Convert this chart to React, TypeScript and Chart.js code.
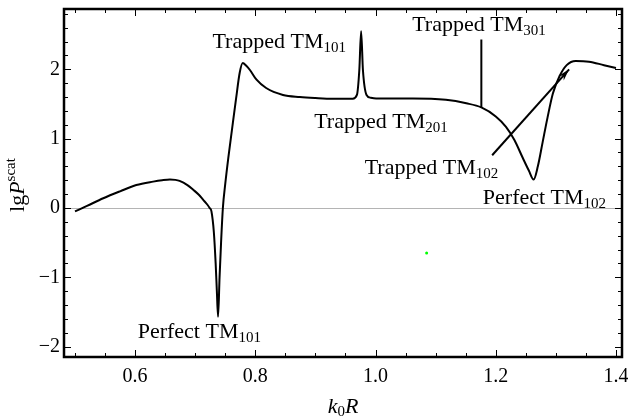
import React, { useEffect, useRef } from "react";
import { Chart, registerables } from "chart.js";

Chart.register(...registerables);

// ---- data ----
const curveX = [
  0.5, 0.52, 0.547, 0.575, 0.602, 0.63, 0.645, 0.658, 0.667, 0.674, 0.687, 0.697, 0.706,
  0.713, 0.72, 0.724, 0.727, 0.731, 0.734, 0.736, 0.738, 0.7405, 0.743, 0.746, 0.75,
  0.755, 0.761, 0.768, 0.774, 0.779, 0.785, 0.791, 0.802, 0.818, 0.846, 0.874, 0.9,
  0.929, 0.962, 0.969, 0.973, 0.976, 0.979, 0.985, 0.992, 1.001, 1.062, 1.117, 1.151,
  1.176, 1.2, 1.217, 1.231, 1.245, 1.255, 1.263, 1.27, 1.278, 1.286,
  1.295, 1.306, 1.318, 1.333, 1.355, 1.38, 1.4,
];
const curveY = [
  -0.05, 0.03, 0.14, 0.24, 0.33, 0.38, 0.4, 0.41, 0.405, 0.39, 0.33, 0.26, 0.19,
  0.12, 0.05, 0.0, -0.05, -0.35, -0.8, -1.2, -1.57, -1.0, -0.5, 0.0, 0.35,
  0.72, 1.12, 1.58, 1.95, 2.09, 2.05, 1.99, 1.85, 1.73, 1.63, 1.6, 1.585,
  1.575, 1.575, 1.63, 1.99, 2.55, 1.99, 1.63, 1.59, 1.58, 1.58, 1.56, 1.51,
  1.45, 1.32, 1.17, 0.98, 0.72, 0.54, 0.41, 0.6, 0.95, 1.3,
  1.65, 1.9, 2.06, 2.12, 2.11, 2.06, 2.02,
];

// narrow Trapped TM301 resonance (drawn as a needle)
const spikeX = [1.176, 1.176];
const spikeY = [1.45, 2.43];

const arrowX = [1.194, 1.322];
const arrowY = [0.76, 2.0];

const dotX = [1.085];
const dotY = [-0.65];

const xTicks = [0.6, 0.8, 1.0, 1.2, 1.4];
const yTicks = [-2, -1, 0, 1, 2];

const labelMain = ["Trapped TM", "Trapped TM", "Trapped TM", "Trapped TM", "Perfect TM", "Perfect TM"];
const labelSub = ["101", "201", "301", "102", "102", "101"];
const labelX = [0.8397, 1.009, 1.172, 1.093, 1.281, 0.7068];
const labelY = [2.397, 1.242, 2.643, 0.578, 0.144, -1.79];

const FONT = "'Liberation Serif', 'Times New Roman', serif";

const decorPlugin = {
  id: "decor",
  beforeDatasetsDraw(chart: any) {
    const { ctx, chartArea: a, scales } = chart;
    const y0 = scales.y.getPixelForValue(0);
    ctx.save();
    ctx.strokeStyle = "#b4b4b4";
    ctx.lineWidth = 1;
    ctx.beginPath();
    ctx.moveTo(a.left, Math.round(y0) + 0.5);
    ctx.lineTo(a.right, Math.round(y0) + 0.5);
    ctx.stroke();
    ctx.restore();
  },
  afterDatasetsDraw(chart: any) {
    const { ctx, chartArea: a, scales } = chart;
    const xs = scales.x;
    const ys = scales.y;
    ctx.save();
    // ticks (inward, all sides)
    ctx.strokeStyle = "#000";
    ctx.lineWidth = 1;
    ctx.beginPath();
    for (let i = 0; i <= 18; i++) {
      const v = 0.5 + i * 0.05;
      const major = xTicks.some((t) => Math.abs(t - v) < 1e-6);
      const len = major ? 7 : 4;
      const px = Math.round(xs.getPixelForValue(v)) + 0.5;
      ctx.moveTo(px, a.bottom);
      ctx.lineTo(px, a.bottom - len);
      ctx.moveTo(px, a.top);
      ctx.lineTo(px, a.top + len);
    }
    for (let i = 0; i <= 24; i++) {
      const v = -2.0 + i * 0.2;
      if (v > ys.max) break;
      const major = yTicks.some((t) => Math.abs(t - v) < 1e-6);
      const len = major ? 7 : 4;
      const py = Math.round(ys.getPixelForValue(v)) + 0.5;
      ctx.moveTo(a.left, py);
      ctx.lineTo(a.left + len, py);
      ctx.moveTo(a.right, py);
      ctx.lineTo(a.right - len, py);
    }
    ctx.stroke();

    // frame
    ctx.lineWidth = 2.5;
    ctx.strokeRect(a.left, a.top, a.right - a.left, a.bottom - a.top);

    // arrowhead
    const tx = xs.getPixelForValue(arrowX[1]);
    const ty = ys.getPixelForValue(arrowY[1]);
    const fx = xs.getPixelForValue(arrowX[0]);
    const fy = ys.getPixelForValue(arrowY[0]);
    const ang = Math.atan2(ty - fy, tx - fx);
    const L = 12;
    const W = 3.5;
    ctx.fillStyle = "#000";
    ctx.beginPath();
    ctx.moveTo(tx, ty);
    ctx.lineTo(tx - L * Math.cos(ang) + W * Math.sin(ang), ty - L * Math.sin(ang) - W * Math.cos(ang));
    ctx.lineTo(tx - 0.7 * L * Math.cos(ang), ty - 0.7 * L * Math.sin(ang));
    ctx.lineTo(tx - L * Math.cos(ang) - W * Math.sin(ang), ty - L * Math.sin(ang) + W * Math.cos(ang));
    ctx.closePath();
    ctx.fill();

    // annotations
    ctx.textBaseline = "middle";
    ctx.textAlign = "left";
    for (let i = 0; i < labelMain.length; i++) {
      const cx = xs.getPixelForValue(labelX[i]);
      const cy = ys.getPixelForValue(labelY[i]);
      ctx.font = `22px ${FONT}`;
      const w1 = ctx.measureText(labelMain[i]).width;
      ctx.font = `15px ${FONT}`;
      const w2 = ctx.measureText(labelSub[i]).width;
      const x0 = cx - (w1 + w2) / 2;
      ctx.font = `22px ${FONT}`;
      ctx.fillText(labelMain[i], x0, cy);
      ctx.font = `15px ${FONT}`;
      ctx.fillText(labelSub[i], x0 + w1, cy + 6);
    }

    // x title: k0R
    {
      const cx = (a.left + a.right) / 2;
      const cy = a.bottom + 50;
      const parts = [
        { t: "k", f: `italic 22px ${FONT}`, dy: 0 },
        { t: "0", f: `15px ${FONT}`, dy: 5 },
        { t: "R", f: `italic 22px ${FONT}`, dy: 0 },
      ];
      let tw = 0;
      const ws = parts.map((p) => {
        ctx.font = p.f;
        const w = ctx.measureText(p.t).width;
        tw += w;
        return w;
      });
      let x = cx - tw / 2;
      parts.forEach((p, i) => {
        ctx.font = p.f;
        ctx.fillText(p.t, x, cy + p.dy);
        x += ws[i];
      });
    }

    // y title: lg P^scat
    {
      const cx = 18;
      const cy = (a.top + a.bottom) / 2 + 2;
      ctx.translate(cx, cy);
      ctx.rotate(-Math.PI / 2);
      const parts = [
        { t: "lg", f: `22px ${FONT}`, dy: 0 },
        { t: "P", f: `italic 22px ${FONT}`, dy: 0 },
        { t: "scat", f: `15px ${FONT}`, dy: -7 },
      ];
      let tw = 0;
      const ws = parts.map((p) => {
        ctx.font = p.f;
        const w = ctx.measureText(p.t).width;
        tw += w;
        return w;
      });
      let x = -tw / 2;
      parts.forEach((p, i) => {
        ctx.font = p.f;
        ctx.fillText(p.t, x, p.dy);
        x += ws[i];
      });
    }
    ctx.restore();
  },
};

export default function App() {
  const ref = useRef<HTMLCanvasElement | null>(null);
  useEffect(() => {
    if (!ref.current) return;
    const chart = new Chart(ref.current, {
      type: "line",
      data: {
        datasets: [
          {
            data: curveX.map((x, i) => ({ x, y: curveY[i] })),
            borderColor: "#000",
            borderWidth: 2,
            pointRadius: 0,
            fill: false,
            cubicInterpolationMode: "monotone",
          },
          {
            data: spikeX.map((x, i) => ({ x, y: spikeY[i] })),
            borderColor: "#000",
            borderWidth: 2,
            pointRadius: 0,
            fill: false,
          },
          {
            data: arrowX.map((x, i) => ({ x, y: arrowY[i] })),
            borderColor: "#000",
            borderWidth: 2,
            pointRadius: 0,
            fill: false,
          },
          {
            type: "scatter",
            data: dotX.map((x, i) => ({ x, y: dotY[i] })),
            backgroundColor: "#00ff00",
            borderColor: "#00ff00",
            pointRadius: 1.5,
            borderWidth: 0,
          },
        ] as any,
      },
      options: {
        animation: false,
        responsive: false,
        layout: { padding: { top: 9, right: 6, left: 0, bottom: 0 } },
        plugins: { legend: { display: false }, tooltip: { enabled: false } },
        scales: {
          x: {
            type: "linear",
            min: 0.4817,
            max: 1.41,
            afterBuildTicks: (s: any) => {
              s.ticks = xTicks.map((v) => ({ value: v }));
            },
            afterFit: (s: any) => {
              s.height = 59;
              s.paddingLeft = 0;
              s.paddingRight = 0;
            },
            ticks: {
              callback: (v: any) => Number(v).toFixed(1),
              font: { family: FONT, size: 20 },
              color: "#000",
              padding: 8,
              maxRotation: 0,
              autoSkip: false,
            },
            grid: { display: false, drawTicks: false },
            border: { display: false },
          },
          y: {
            type: "linear",
            min: -2.15,
            max: 2.87,
            afterBuildTicks: (s: any) => {
              s.ticks = yTicks.map((v) => ({ value: v }));
            },
            afterFit: (s: any) => {
              s.width = 64;
              s.paddingTop = 0;
              s.paddingBottom = 0;
            },
            ticks: {
              callback: (v: any) => (Number(v) < 0 ? "\u2212" + Math.abs(Number(v)) : String(v)),
              font: { family: FONT, size: 20 },
              color: "#000",
              padding: 4,
              autoSkip: false,
            },
            grid: { display: false, drawTicks: false },
            border: { display: false },
          },
        },
      },
      plugins: [decorPlugin],
    } as any);
    return () => chart.destroy();
  }, []);
  return (
    <div style={{ position: "absolute", left: 0, top: 0, width: 628, height: 416, background: "#fff" }}>
      <canvas ref={ref} width={628} height={416} />
    </div>
  );
}
